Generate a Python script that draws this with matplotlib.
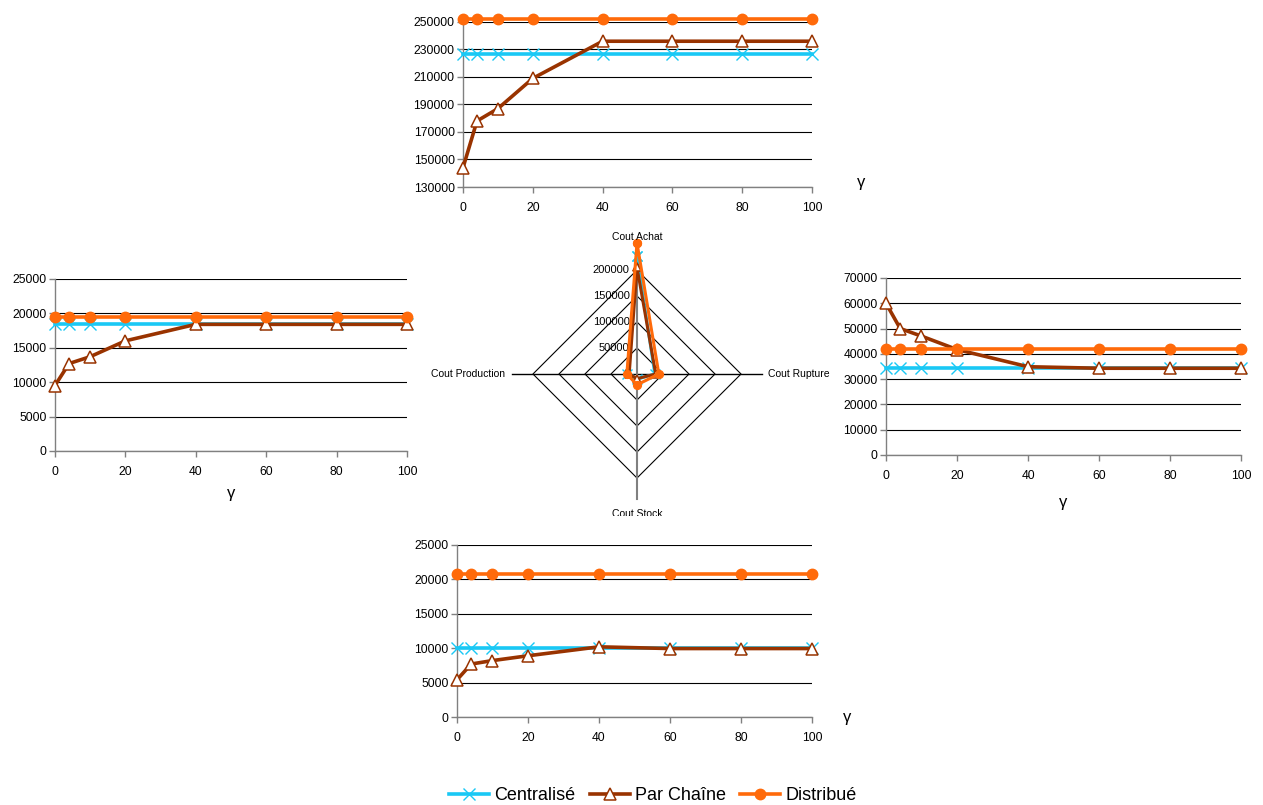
import matplotlib
matplotlib.use("Agg")
import matplotlib.pyplot as plt
import numpy as np

plt.rcParams['font.family'] = ['Liberation Sans', 'DejaVu Sans']

# Data
gamma = [0, 4, 10, 20, 40, 60, 80, 100]
series_names = ['Centralisé', 'Par Chaîne', 'Distribué']

achat_central = [227000] * 8
achat_chaine = [144000, 178000, 187000, 209000, 236000, 236000, 236000, 236000]
achat_distrib = [252000] * 8

prod_central = [18400] * 8
prod_chaine = [9500, 12700, 13700, 16000, 18400, 18400, 18400, 18400]
prod_distrib = [19500] * 8

rupt_central = [34300] * 8
rupt_chaine = [60000, 50000, 47000, 41700, 34900, 34300, 34300, 34300]
rupt_distrib = [42000] * 8

stock_central = [10000] * 8
stock_chaine = [5400, 7700, 8200, 8900, 10200, 9950, 9950, 9950]
stock_distrib = [20800] * 8

radar_axes = ['Cout Achat', 'Cout Rupture', 'Cout Stock', 'Cout Production']
radar_central = [227000, 34300, 10000, 18400]
radar_chaine = [205000, 36000, 9000, 15000]
radar_distrib = [252000, 42000, 20800, 19500]
radar_ticks = [0, 50000, 100000, 150000, 200000]

# Styles
CYAN = '#19C8F5'
BROWN = '#993300'
ORANGE = '#FF6A0A'
styles = [
    dict(color=CYAN, lw=2.6, marker='x', ms=9, mew=1.0, mec=CYAN),
    dict(color=BROWN, lw=2.6, marker='^', ms=8, mew=1.1, mec=BROWN, mfc='white'),
    dict(color=ORANGE, lw=2.6, marker='o', ms=7.5, mew=1.0, mec=ORANGE, mfc=ORANGE),
]

fig = plt.figure(figsize=(12.63, 8.05), dpi=100)


def line_chart(rect, data, ylim, ystep, gamma_pos):
    ax = fig.add_axes(rect)
    handles = []
    for vals, st, name in zip(data, styles, series_names):
        h, = ax.plot(gamma, vals, label=name, clip_on=False, zorder=3, **st)
        handles.append(h)
    ax.set_xlim(0, 100)
    ax.set_ylim(*ylim)
    ax.set_xticks([0, 20, 40, 60, 80, 100])
    ax.set_yticks(np.arange(ylim[0], ylim[1] + 1, ystep))
    ax.yaxis.grid(True, color='black', lw=0.8)
    ax.set_axisbelow(True)
    for s in ['top', 'right']:
        ax.spines[s].set_visible(False)
    for s in ['left', 'bottom']:
        ax.spines[s].set_color('#808080')
        ax.spines[s].set_linewidth(1.0)
    ax.tick_params(axis='both', labelsize=8.7, length=4, color='#808080', width=1.0)
    ax.tick_params(axis='y', pad=2)
    ax.tick_params(axis='x', pad=7)
    ax.text(gamma_pos[0], gamma_pos[1], 'γ', transform=ax.transAxes, fontsize=12,
            ha='center', va='center')
    return ax, handles


# top: Cout Achat
ax_top, handles = line_chart([0.3666, 0.7677, 0.2763, 0.205],
                             [achat_central, achat_chaine, achat_distrib],
                             (130000, 250000), 20000, (1.14, 0.03))
# left: Cout Production
line_chart([0.0435, 0.4398, 0.2787, 0.2137],
           [prod_central, prod_chaine, prod_distrib],
           (0, 25000), 5000, (0.5, -0.25))
# right: Cout Rupture
line_chart([0.7015, 0.4348, 0.2811, 0.2199],
           [rupt_central, rupt_chaine, rupt_distrib],
           (0, 70000), 10000, (0.5, -0.27))
# bottom: Cout Stock
line_chart([0.3618, 0.1093, 0.2811, 0.2137],
           [stock_central, stock_chaine, stock_distrib],
           (0, 25000), 5000, (1.1, 0.0))

# Radar chart (diamond, 4 axes)
R = 273000
axr = fig.add_axes([0.3919, 0.359, 0.2249, 0.3528])
axr.set_xlim(-R, R)
axr.set_ylim(-R, R)
axr.set_aspect('equal')
axr.axis('off')
dirs = np.array([[0, 1], [1, 0], [0, -1], [-1, 0]])
for t in radar_ticks[1:]:
    pts = np.vstack([dirs * t, dirs[:1] * t])
    axr.plot(pts[:, 0], pts[:, 1], color='black', lw=0.8, zorder=1)
ext = 240000
axr.plot([-ext, ext], [0, 0], color='black', lw=1.0, zorder=1)
axr.plot([0, 0], [-ext, ext], color='#808080', lw=1.5, zorder=1)
for t in radar_ticks:
    axr.text(-14000, t, str(t), fontsize=8, ha='right', va='center', zorder=2)
for vals, st in zip([radar_central, radar_chaine, radar_distrib], styles):
    v = np.array(vals)
    pts = dirs * v[:, None]
    pts = np.vstack([pts, pts[:1]])
    st2 = dict(st)
    st2['ms'] = st['ms'] * 0.75
    st2['lw'] = 2.2
    axr.plot(pts[:, 0], pts[:, 1], clip_on=False, zorder=3, **st2)
axr.text(0, 263000, radar_axes[0], fontsize=7.5, ha='center', va='center')
axr.text(252000, 0, radar_axes[1], fontsize=7.5, ha='left', va='center')
axr.text(0, -270000, radar_axes[2], fontsize=7.5, ha='center', va='center', clip_on=True)
axr.text(-254000, 0, radar_axes[3], fontsize=7.5, ha='right', va='center')

fig.legend(handles=handles, loc='center', bbox_to_anchor=(0.517, 0.012), ncol=3,
           frameon=False, fontsize=13, handlelength=2.2, handletextpad=0.3,
           columnspacing=0.8)

fig.savefig('out.png', dpi=100)
